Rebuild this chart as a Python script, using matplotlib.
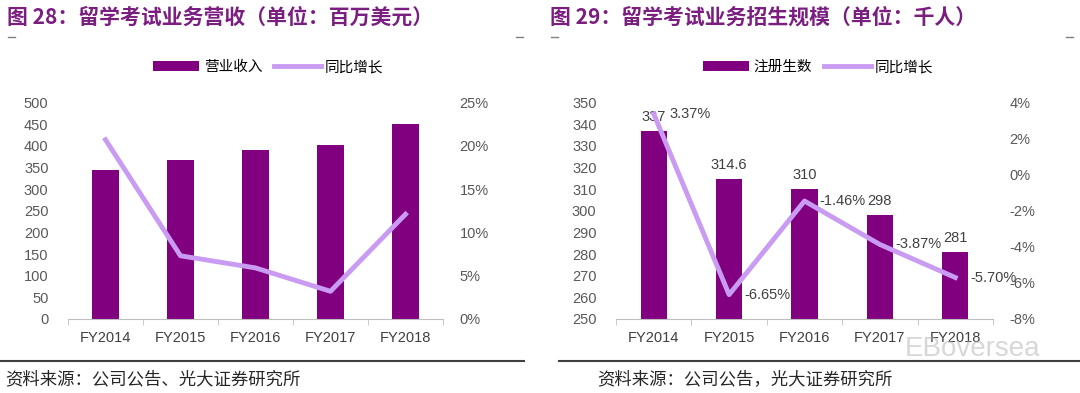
import numpy as np
import matplotlib.pyplot as plt
from matplotlib.lines import Line2D
from matplotlib.patches import Patch
from matplotlib.ticker import FuncFormatter

plt.rcParams['font.family'] = ['Liberation Sans', 'Noto Sans CJK SC', 'DejaVu Sans']

# data
years = ["FY2014", "FY2015", "FY2016", "FY2017", "FY2018"]
revenue = [343, 367, 390, 401, 451]
revenue_growth = [20.7, 7.3, 5.9, 3.2, 12.1]
students = [337, 314.6, 310, 298, 281]
students_growth = [3.37, -6.65, -1.46, -3.87, -5.70]
student_labels = ["337", "314.6", "310", "298", "281"]

bar_c = "#800080"
line_c = "#C99BF2"
title_c = "#7A1E80"
tick_c = "#595959"
cjk = ['Noto Sans CJK SC', 'DejaVu Sans']

fig = plt.figure(figsize=(10.8, 3.93), dpi=100)
W, H = 1080, 393

def px(x, y):
    return x / W, 1 - y / H

def style(ax, ax2):
    for s in ["top", "left", "right"]:
        ax.spines[s].set_visible(False)
        ax2.spines[s].set_visible(False)
    ax2.spines["bottom"].set_visible(False)
    ax.spines["bottom"].set_color("#BFBFBF")
    ax.tick_params(axis="y", length=0, colors=tick_c, labelsize=10.5, pad=14)
    ax2.tick_params(axis="y", length=0, colors=tick_c, labelsize=10.5, pad=12)
    ax.tick_params(axis="x", length=0, colors="#404040", labelsize=10.5, pad=9)
    ax.set_xticks(np.arange(-0.5, 5, 1), minor=True)
    ax.tick_params(axis="x", which="minor", length=4, color="#BFBFBF")
    ax.set_xlim(-0.5, 4.5)

def legend(ax, bar_label, x):
    handles = [Patch(facecolor=bar_c, label=bar_label),
               Line2D([0], [0], color=line_c, lw=3.5, label="同比增长")]
    fig.legend(handles=handles, loc="center", bbox_to_anchor=px(x, 67),
               ncol=2, frameon=False, handlelength=3.2, handleheight=0.7,
               columnspacing=0.8, handletextpad=0.3,
               prop={"family": cjk, "size": 10.5})

x = np.arange(len(years))
pct = FuncFormatter(lambda v, p: f"{v:.0f}%")

# left chart
ax = fig.add_axes([68 / W, 1 - 319 / H, 375 / W, 216.5 / H])
ax2 = ax.twinx()
ax.bar(x, revenue, width=0.35, color=bar_c, zorder=1)
ax2.plot(x, revenue_growth, color=line_c, lw=3.5, zorder=2)
ax.set_ylim(0, 500)
ax.set_yticks(np.arange(0, 501, 50))
ax2.set_ylim(0, 25)
ax2.set_yticks(np.arange(0, 26, 5))
ax2.yaxis.set_major_formatter(pct)
ax.set_xticks(x)
ax.set_xticklabels(years)
style(ax, ax2)
legend(ax, "营业收入", 268)

# right chart
bx = fig.add_axes([616 / W, 1 - 319 / H, 377 / W, 216.5 / H])
bx2 = bx.twinx()
bx.bar(x, students, width=0.35, color=bar_c, zorder=1)
bx2.plot(x, students_growth, color=line_c, lw=3.5, zorder=2)
bx.set_ylim(250, 350)
bx.set_yticks(np.arange(250, 351, 10))
bx2.set_ylim(-8, 4)
bx2.set_yticks(np.arange(-8, 5, 2))
bx2.yaxis.set_major_formatter(pct)
bx.set_xticks(x)
bx.set_xticklabels(years)
style(bx, bx2)
legend(bx, "注册生数", 818)
for i, v in enumerate(students):
    bx.annotate(student_labels[i], xy=(x[i], v), xytext=(0, 5), textcoords="offset points",
                ha="center", va="bottom", fontsize=10.5, color="#404040", zorder=5)
for i, v in enumerate(students_growth):
    bx2.annotate(f"{v:.2f}%", xy=(x[i], v), xytext=(11, 0), textcoords="offset points",
                 ha="left", va="center", fontsize=10.5, color="#404040", zorder=5)

# titles
fig.text(*px(7, 17), "图 28：留学考试业务营收（单位：百万美元）", color=title_c,
         fontsize=15, fontweight="bold", family=cjk, va="center")
fig.text(*px(550, 17), "图 29：留学考试业务招生规模（单位：千人）", color=title_c,
         fontsize=15, fontweight="bold", family=cjk, va="center")

# small dashes under titles
for x0 in [8, 516, 551, 1066]:
    fig.lines.append(Line2D([x0 / W, (x0 + 7) / W], [1 - 37 / H] * 2,
                            color="#808080", lw=1, transform=fig.transFigure))

# footer lines and source
fig.lines.append(Line2D([0, 524 / W], [1 - 361 / H] * 2, color="#404040", lw=1.5,
                        transform=fig.transFigure))
fig.lines.append(Line2D([559 / W, 1], [1 - 361 / H] * 2, color="#404040", lw=1.5,
                        transform=fig.transFigure))
fig.text(*px(5, 379), "资料来源：公司公告、光大证券研究所", fontsize=12.5, family=cjk,
         color="#262626", va="center")
fig.text(*px(597, 379), "资料来源：公司公告，光大证券研究所", fontsize=12.5, family=cjk,
         color="#262626", va="center")

# watermark
fig.text(*px(905, 349), "EBoversea", fontsize=20, color="#B0B0B0", alpha=0.5, va="center")

fig.savefig("out.png", dpi=100)
